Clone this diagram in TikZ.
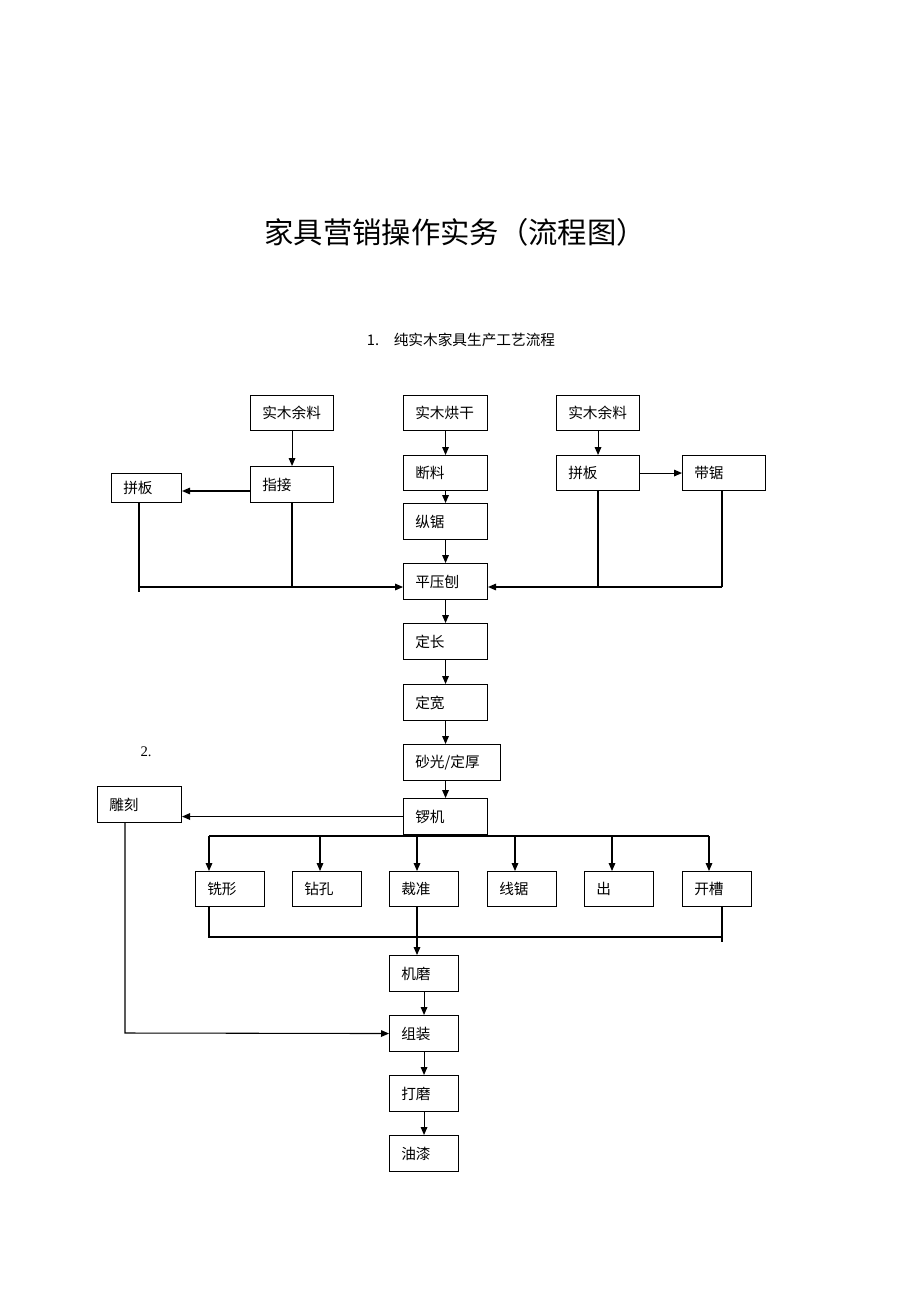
\documentclass[tikz,border=0pt]{standalone}
\usepackage{fontspec}
\setmainfont{Liberation Serif}
\newfontfamily\cjk{Noto Sans CJK SC}
\usetikzlibrary{arrows.meta}
\tikzset{
  box/.style={draw,line width=0.8pt,inner sep=0pt},
  lbl/.style={font=\cjk\fontsize{11}{13}\selectfont,anchor=west,inner sep=0pt},
  ln/.style={line width=0.8pt},
  ar/.style={line width=0.8pt,-{Triangle[length=6pt,width=5pt]}}
}
\newcommand\bx[6]{%
  \node[box,anchor=north west,minimum width={(#4-#2)*0.75pt},minimum height={(#5-#3)*0.75pt}] (#1) at (#2,#3) {};
  \node[lbl] (#1t) at ([xshift=9pt]#1.west) {#6};}
\begin{document}
\begin{tikzpicture}[x=0.75pt,y=-0.75pt]
\useasboundingbox (0,0) rectangle (920,1302);
\node[font=\cjk\fontsize{22}{26}\selectfont] (title) at (455,232) {家具营销操作实务（流程图）};
\node[font=\cjk\fontsize{11}{13}\selectfont] (sub) at (461,340) {1.\quad 纯实木家具生产工艺流程};
\node[font=\fontsize{11}{13}\selectfont] (two) at (146,752) {2.};
\bx{a1}{250}{395}{333}{430}{实木余料}
\bx{a2}{403}{395}{487}{430}{实木烘干}
\bx{a3}{556}{395}{639}{430}{实木余料}
\bx{zj}{250}{466}{333}{502}{指接}
\bx{pbl}{111}{473}{181}{502}{拼板}
\bx{dl}{403}{455}{487}{490}{断料}
\bx{zjv}{403}{503}{487}{539}{纵锯}
\bx{pbr}{556}{455}{639}{490}{拼板}
\bx{dj}{682}{455}{765}{490}{带锯}
\bx{pyb}{403}{563}{487}{599}{平压刨}
\bx{dc}{403}{623}{487}{659}{定长}
\bx{dk}{403}{684}{487}{720}{定宽}
\bx{sg}{403}{744}{500}{780}{砂光/定厚}
\bx{lj}{403}{798}{487}{834}{锣机}
\bx{dke}{97}{786}{181}{822}{雕刻}
\bx{xx}{195}{871}{264}{906}{铣形}
\bx{zk}{292}{871}{361}{906}{钻孔}
\bx{cz}{389}{871}{458}{906}{裁准}
\bx{xj}{487}{871}{556}{906}{线锯}
\bx{ch}{584}{871}{653}{906}{出}
\bx{kc}{682}{871}{751}{906}{开槽}
\bx{jm}{389}{955}{458}{991}{机磨}
\bx{zz}{389}{1015}{458}{1051}{组装}
\bx{dm}{389}{1075}{458}{1111}{打磨}
\bx{yq}{389}{1135}{458}{1171}{油漆}
% arrows top
\draw[ar] (a1.south) -- (zj.north);
\draw[ar] (a2.south) -- (dl.north);
\draw[ar] (a3.south) -- (pbr.north);
\draw[ar] (dl.south) -- (zjv.north);
\draw[ar] (zjv.south) -- (pyb.north);
\coordinate (pz) at (250,491);
\draw[ar] (pz) -- (pbl.east |- pz);
\draw[ar] (pbr.east) -- (dj.west);
\coordinate (jl) at (139,587);
\coordinate (jr) at (722,587);
\draw[ln] (139,502) -- (139,592);
\draw[ln] (292,502) -- (292,587);
\draw[ar] (jl) -- (pyb.west |- jl);
\draw[ln] (598,490) -- (598,587);
\draw[ln] (722,490) -- (jr);
\draw[ar] (jr) -- (pyb.east |- jr);
\draw[ar] (pyb.south) -- (dc.north);
\draw[ar] (dc.south) -- (dk.north);
\draw[ar] (dk.south) -- (sg.north -| dk.south);
\draw[ar] (sg.south -| lj.north) -- (lj.north);
\draw[ar] (lj.west) -- (dke.east |- lj.west);
% branch
\draw[ln] (209,836) -- (709,836);
\foreach \n/\x in {xx/209,zk/320,cz/417,xj/515,ch/612,kc/709}{\draw[ar] (\x,836) -- (\x,871);}
\draw[ln] (209,906) -- (209,937) -- (722,937);
\draw[ln] (722,906) -- (722,942);
\draw[ar] (417,906) -- (417,955);
\draw[ar] (jm.south) -- (zz.north);
\draw[ar] (zz.south) -- (dm.north);
\draw[ar] (dm.south) -- (yq.north);
\draw[ar] (125,822) -- (125,1033) -- (zz.west);
\end{tikzpicture}
\end{document}
